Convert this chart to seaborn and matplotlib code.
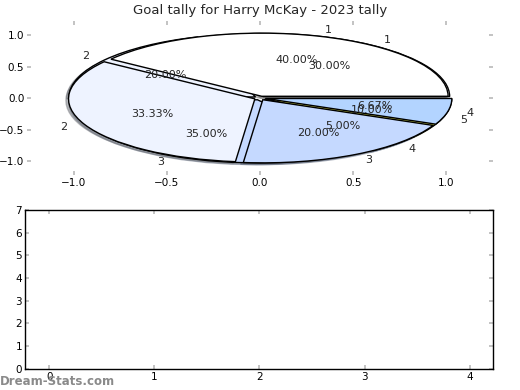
import matplotlib
matplotlib.use("Agg")
import matplotlib.pyplot as plt
import seaborn as sns

# Two seasons of goals per round, drawn as overlaid pies
labels_a = ["1", "2", "3", "4"]
goals_a = [6, 5, 3, 1]
labels_b = ["1", "2", "3", "4", "5"]
goals_b = [6, 4, 7, 1, 2]
wedge_colors = ["#ffffff", "#eef3ff", "#c5d9ff", "#b3d4ff", "#d6de4a"]

title = "Goal tally for Harry McKay - 2023 tally"
pie_ticks = [-1.0, -0.5, 0.0, 0.5, 1.0]
pie_ticklabels = ["\u22121.0", "\u22120.5", "0.0", "0.5", "1.0"]
bar_xticks = [0, 1, 2, 3, 4]
bar_yticks = [0, 1, 2, 3, 4, 5, 6, 7]

sns.set_theme(style="white")
plt.rcParams["font.family"] = ["DejaVu Sans"]
plt.rcParams["font.size"] = 8

fig = plt.figure(figsize=(5.2, 3.9), dpi=100)
ax_pie = fig.add_axes([0.052, 0.551, 0.896, 0.395])
ax_bar = fig.add_axes([0.048, 0.054, 0.900, 0.408])

tick_kw = dict(direction="in", length=3, color="#bbbbbb", labelsize=7.5,
               labelcolor="black", pad=2, top=True, right=True,
               left=True, bottom=True)

shadow = dict(ox=-0.01, oy=-0.02, shade=0.5)

# --- pies ------------------------------------------------------------------
ax_pie.pie(goals_b, labels=labels_b, colors=wedge_colors[:len(goals_b)],
           autopct="%.2f%%", shadow=shadow, explode=[0.03] * len(goals_b),
           labeldistance=1.1, pctdistance=0.6, frame=True,
           wedgeprops=dict(edgecolor="black", linewidth=1),
           textprops=dict(fontsize=8))
ax_pie.pie(goals_a, labels=labels_a, colors=wedge_colors[:len(goals_a)],
           autopct="%.2f%%", shadow=shadow, explode=[0.03] * len(goals_a),
           labeldistance=1.1, pctdistance=0.6, frame=True,
           wedgeprops=dict(edgecolor="black", linewidth=1),
           textprops=dict(fontsize=8))
ax_pie.set_aspect("auto")
ax_pie.set_xlim(-1.25, 1.25)
ax_pie.set_ylim(-1.22, 1.22)
ax_pie.set_xticks(pie_ticks)
ax_pie.set_yticks(pie_ticks)
ax_pie.set_xticklabels(pie_ticklabels)
ax_pie.set_yticklabels(pie_ticklabels)
ax_pie.tick_params(**tick_kw)
sns.despine(ax=ax_pie, left=True, bottom=True)
ax_pie.set_title(title, fontsize=9.5, pad=5)

# --- empty bar panel -------------------------------------------------------
ax_bar.set_xlim(-0.23, 4.22)
ax_bar.set_ylim(0, 7)
ax_bar.set_xticks(bar_xticks)
ax_bar.set_yticks(bar_yticks)
ax_bar.tick_params(**tick_kw)
for sp in ax_bar.spines.values():
    sp.set_visible(True)
    sp.set_color("black")
    sp.set_linewidth(1)

fig.text(0.0, 0.012, "Dream-Stats.com", color="#8a8a8a", fontsize=8.5,
         fontweight="bold")

fig.savefig("out.png", dpi=100)
